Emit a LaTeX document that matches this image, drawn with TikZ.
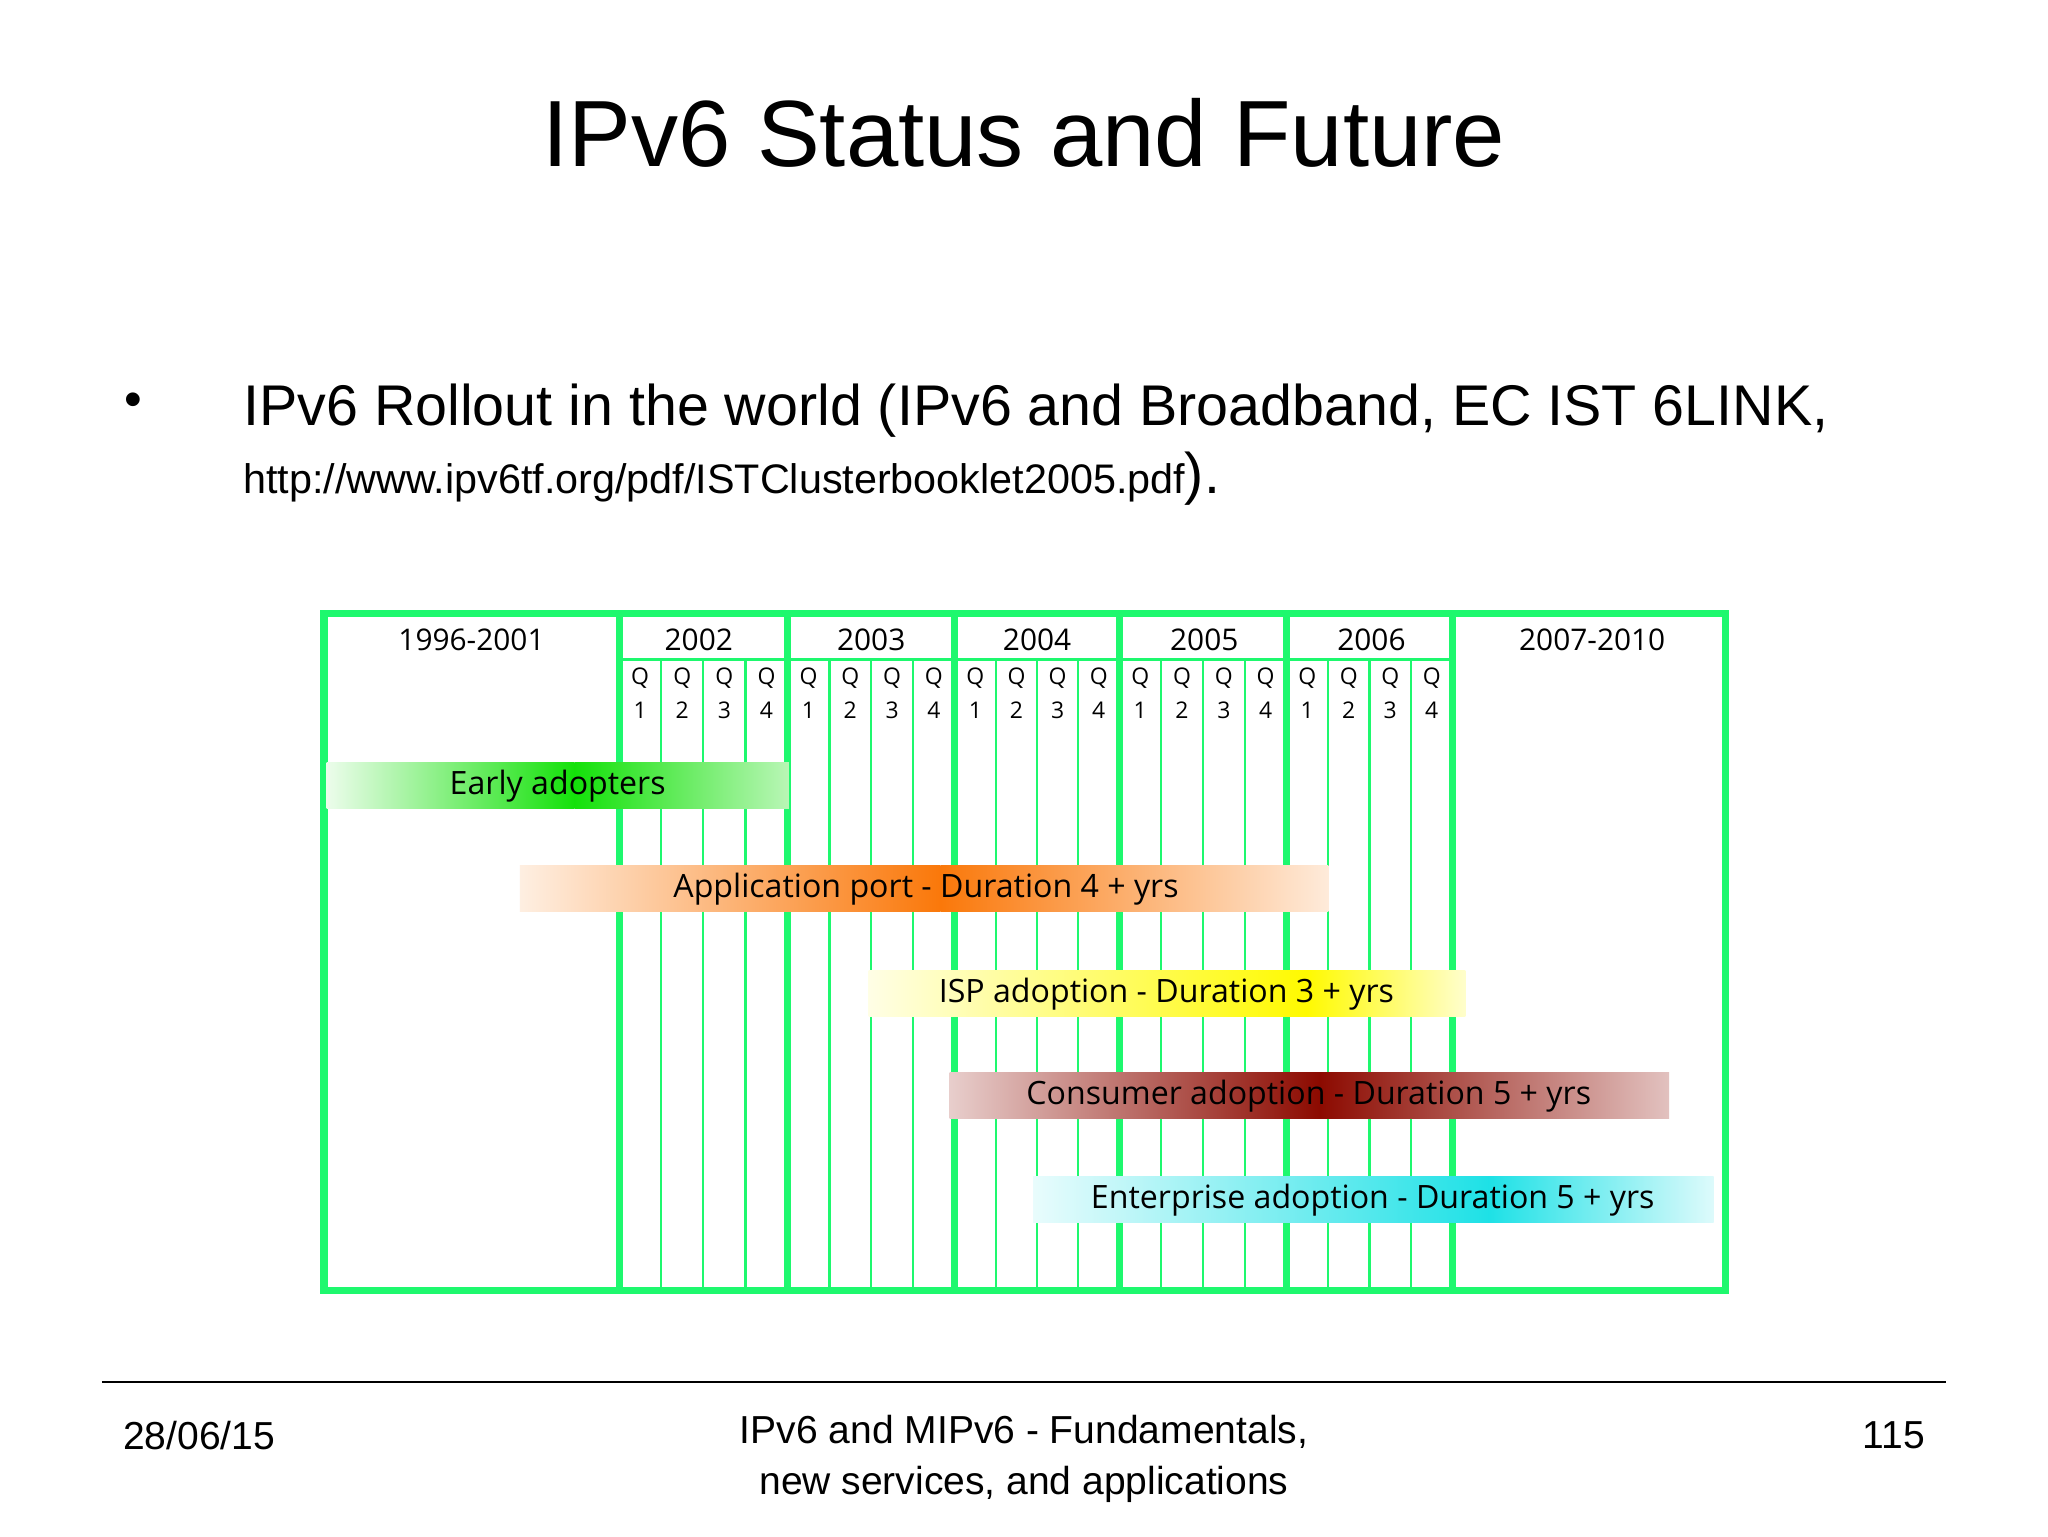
\documentclass[tikz,border=0pt]{standalone}
\usepackage{fontspec}
\setmainfont{Liberation Sans}
\newfontfamily\chartfont{Open Sans}
\definecolor{gr}{RGB}{30,248,110}
\definecolor{eg}{RGB}{20,225,10}
\definecolor{org}{RGB}{250,120,10}
\definecolor{yel}{RGB}{255,250,0}
\definecolor{dred}{RGB}{140,10,0}
\definecolor{cya}{RGB}{30,225,230}
\tikzset{
  thick line/.style={draw=gr,line width=1.1mm},
  thin line/.style={draw=gr,line width=0.35mm},
  lbl/.style={font=\chartfont\fontsize{13}{13}\selectfont,inner sep=0pt},
  ql/.style={font=\chartfont\fontsize{10}{10}\selectfont,inner sep=0pt},
  barlbl/.style={font=\chartfont\fontsize{14}{14}\selectfont,inner sep=0pt}
}
\newcommand{\gbar}[8]{% x0 peak x1 ytop ybot leftcol peakcol rightcol
  \shade[left color=#6,right color=#7] (#1,#4) rectangle (#2,#5);
  \shade[left color=#7,right color=#8] (#2,#4) rectangle (#3,#5);
}
\begin{document}
\begin{tikzpicture}[x=0.2mm,y=-0.2mm]
\useasboundingbox[fill=white] (0,0) rectangle (1568,1176);
\node[font=\fontsize{41}{41}\selectfont] (title) at (784,102) {IPv6 Status and Future};
\node[font=\fontsize{22}{22}\selectfont] (bul) at (102,310) {•};
\node[anchor=base west,font=\fontsize{25}{25}\selectfont,inner sep=0pt] (l1) at (186,326) {IPv6 Rollout in the world (IPv6 and Broadband, EC IST 6LINK,};
\node[anchor=base west,font=\fontsize{18}{18}\selectfont,inner sep=0pt] (l2) at (186,378) {http://www.ipv6tf.org/pdf/ISTClusterbooklet2005.pdf\fontsize{25}{25}\selectfont).};
% grid
\foreach \a/\b in {474/603,603/731,731/857,857/985,985/1112}{
  \foreach \i in {1,2,3}{
    \draw[thin line] ({\a+\i*(\b-\a)/4},505) -- ({\a+\i*(\b-\a)/4},988);
  }
  \foreach \i in {1,2,3,4}{
    \node[ql] at ({\a+(\i-0.5)*(\b-\a)/4},519) {Q};
    \node[ql] at ({\a+(\i-0.5)*(\b-\a)/4},544) {\i};
  }
}
\draw[thin line] (474,505) -- (1112,505);
\foreach \x in {474,603,731,857,985,1112}{\draw[thick line] (\x,470) -- (\x,988);}
\draw[thick line] (248,470) rectangle (1321,988);
\node[lbl] (y0) at (361,490) {1996-2001};
\node[lbl] (y1) at (535,490) {2002};
\node[lbl] (y2) at (667,490) {2003};
\node[lbl] (y3) at (794,490) {2004};
\node[lbl] (y4) at (922,490) {2005};
\node[lbl] (y5) at (1050,490) {2006};
\node[lbl] (y6) at (1219,490) {2007-2010};
% bars
\gbar{250}{440}{604}{584}{619}{eg!8}{eg}{eg!30}
\node[barlbl] (b1) at (427,602) {Early adopters};
\gbar{398}{720}{1017}{663}{698}{org!12}{org}{org!15}
\node[barlbl] (b2) at (709,681) {Application port - Duration 4 + yrs};
\gbar{665}{1000}{1122}{743}{778}{yel!10}{yel}{yel!20}
\node[barlbl] (b3) at (893,761) {ISP adoption - Duration 3 + yrs};
\gbar{727}{1010}{1278}{821}{856}{dred!20}{dred}{dred!25}
\node[barlbl] (b4) at (1002,839) {Consumer adoption - Duration 5 + yrs};
\gbar{791}{1140}{1312}{901}{936}{cya!10}{cya}{cya!15}
\node[barlbl] (b5) at (1051,919) {Enterprise adoption - Duration 5 + yrs};
% footer
\draw[line width=0.3mm] (78,1058) coordinate (fa) -- (1490,1058) coordinate (fb);
\node[anchor=west,font=\fontsize{17}{17}\selectfont,inner sep=0pt] (date) at (94,1099) {28/06/15};
\node[align=center,font=\fontsize{17}{22}\selectfont,inner sep=0pt] (ft) at (784,1117) {IPv6 and MIPv6 - Fundamentals,\\new services, and applications};
\node[anchor=east,font=\fontsize{17}{17}\selectfont,inner sep=0pt] (pg) at (1474,1099) {115};
\end{tikzpicture}
\end{document}
